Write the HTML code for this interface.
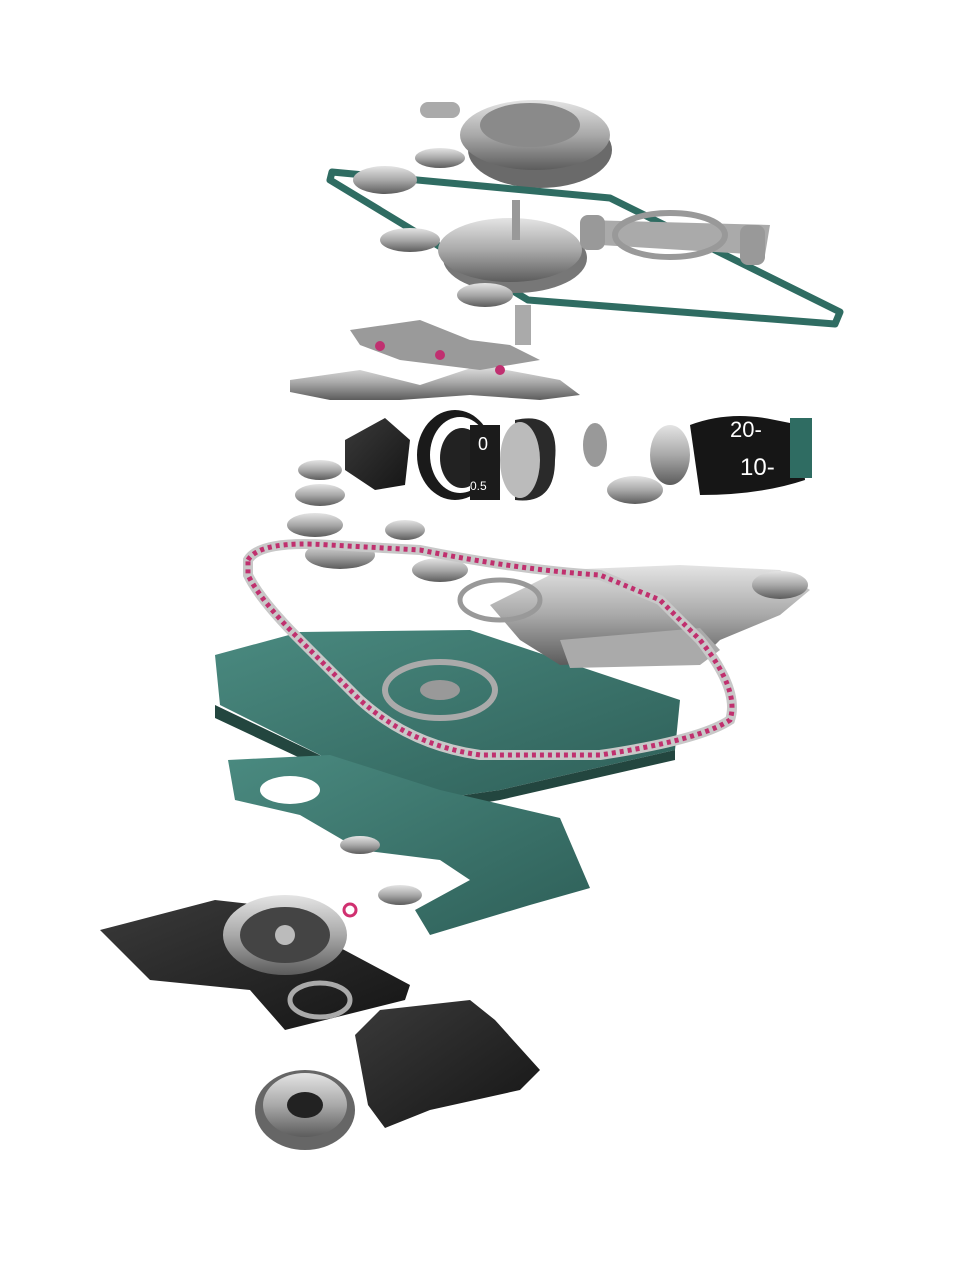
<!DOCTYPE html>
<html><head><meta charset="utf-8"><style>html,body{margin:0;padding:0;background:#fff}svg{display:block}</style></head>
<body>
<svg width="960" height="1280" viewBox="0 0 960 1280" xmlns="http://www.w3.org/2000/svg">
<defs>
<linearGradient id="steel" x1="0" y1="0" x2="0" y2="1"><stop offset="0" stop-color="#e4e4e4"/><stop offset="0.5" stop-color="#a9a9a9"/><stop offset="1" stop-color="#5c5c5c"/></linearGradient>
<linearGradient id="teal" x1="0" y1="0" x2="1" y2="1"><stop offset="0" stop-color="#4a8a80"/><stop offset="1" stop-color="#2e5f58"/></linearGradient>
<linearGradient id="blk" x1="0" y1="0" x2="1" y2="1"><stop offset="0" stop-color="#3a3a3a"/><stop offset="1" stop-color="#151515"/></linearGradient>
</defs>
<!-- top big disc -->
<ellipse cx="540" cy="150" rx="72" ry="38" fill="#6a6a6a"/>
<ellipse cx="535" cy="135" rx="75" ry="35" fill="url(#steel)"/>
<ellipse cx="530" cy="125" rx="50" ry="22" fill="#8a8a8a"/>
<rect x="420" y="102" width="40" height="16" rx="8" fill="#aaa"/>
<!-- frame -->
<polygon points="332,172 610,198 840,312 835,324 528,300 330,180" fill="none" stroke="#2f6c62" stroke-width="7" stroke-linejoin="round"/>
<!-- small gears top -->
<ellipse cx="385" cy="180" rx="32" ry="14" fill="url(#steel)"/>
<ellipse cx="440" cy="158" rx="25" ry="10" fill="url(#steel)"/>
<ellipse cx="410" cy="240" rx="30" ry="12" fill="url(#steel)"/>
<ellipse cx="515" cy="258" rx="72" ry="35" fill="#777"/>
<ellipse cx="510" cy="250" rx="72" ry="32" fill="url(#steel)"/>
<rect x="512" y="200" width="8" height="40" fill="#999"/>
<ellipse cx="485" cy="295" rx="28" ry="12" fill="url(#steel)"/>
<rect x="515" y="305" width="16" height="40" fill="#aaa"/>
<!-- right arm -->
<path d="M585 220 L770 225 L765 255 L600 245 Z" fill="#aaa"/>
<ellipse cx="670" cy="235" rx="55" ry="22" fill="none" stroke="#999" stroke-width="6"/>
<rect x="580" y="215" width="25" height="35" rx="8" fill="#999"/>
<rect x="740" y="225" width="25" height="40" rx="8" fill="#999"/>
<!-- gear row 2 -->
<path d="M290 380 L360 370 L420 385 L480 365 L560 380 L580 395 L540 400 L470 395 L400 400 L330 400 L290 392 Z" fill="url(#steel)"/>
<path d="M350 330 L420 320 L470 340 L510 345 L540 360 L480 370 L400 360 L360 345 Z" fill="#9a9a9a"/>
<circle cx="380" cy="346" r="5" fill="#c03070"/><circle cx="440" cy="355" r="5" fill="#c03070"/><circle cx="500" cy="370" r="5" fill="#c03070"/>
<!-- cylinders -->
<path d="M345 440 L385 418 L410 440 L405 485 L375 490 L345 470 Z" fill="url(#blk)"/>
<ellipse cx="455" cy="455" rx="38" ry="45" fill="#1a1a1a"/>
<ellipse cx="460" cy="455" rx="30" ry="38" fill="#fff"/>
<ellipse cx="462" cy="458" rx="22" ry="30" fill="#222"/>
<rect x="470" y="425" width="30" height="75" fill="#1b1b1b"/>
<text x="478" y="450" fill="#fff" font-family="Liberation Sans, sans-serif" font-size="18">0</text>
<text x="470" y="490" fill="#fff" font-family="Liberation Sans, sans-serif" font-size="12">0.5</text>
<path d="M515 420 Q560 410 555 460 Q555 505 515 500 Z" fill="#2a2a2a"/>
<ellipse cx="520" cy="460" rx="20" ry="38" fill="#bbb"/>
<ellipse cx="595" cy="445" rx="12" ry="22" fill="#999"/>
<ellipse cx="635" cy="490" rx="28" ry="14" fill="url(#steel)"/>
<ellipse cx="670" cy="455" rx="20" ry="30" fill="url(#steel)"/>
<path d="M690 425 Q730 410 775 420 L800 425 L805 480 Q760 495 700 495 Z" fill="#161616"/>
<text x="730" y="437" fill="#fff" font-family="Liberation Sans, sans-serif" font-size="22">20-</text>
<text x="740" y="475" fill="#fff" font-family="Liberation Sans, sans-serif" font-size="24">10-</text>
<rect x="790" y="418" width="22" height="60" fill="#2f6c62"/>
<!-- left gear stack -->
<ellipse cx="320" cy="470" rx="22" ry="10" fill="url(#steel)"/>
<ellipse cx="320" cy="495" rx="25" ry="11" fill="url(#steel)"/>
<ellipse cx="315" cy="525" rx="28" ry="12" fill="url(#steel)"/>
<ellipse cx="340" cy="555" rx="35" ry="14" fill="url(#steel)"/>
<ellipse cx="405" cy="530" rx="20" ry="10" fill="url(#steel)"/>
<ellipse cx="440" cy="570" rx="28" ry="12" fill="url(#steel)"/>
<!-- teal main plate -->
<polygon points="215,655 300,632 470,630 680,700 675,750 500,790 430,800 330,760 220,705" fill="url(#teal)"/>
<polygon points="215,705 330,760 430,800 500,790 675,750 675,760 500,800 430,812 330,772 215,718" fill="#23463f"/>
<ellipse cx="440" cy="690" rx="55" ry="28" fill="none" stroke="#aaa" stroke-width="6"/>
<ellipse cx="440" cy="690" rx="20" ry="10" fill="#999"/>
<!-- second teal plate -->
<polygon points="228,760 330,755 440,790 560,818 590,888 530,905 430,935 415,910 470,880 440,860 360,850 300,815 235,800" fill="url(#teal)"/>
<ellipse cx="290" cy="790" rx="30" ry="14" fill="#fff"/>
<!-- silver machinery right -->
<path d="M490 605 L560 570 L680 565 L780 570 L810 590 L780 615 L720 640 L700 660 L560 665 L520 640 Z" fill="url(#steel)"/>
<path d="M560 640 L700 628 L720 650 L700 665 L570 668 Z" fill="#aaa"/>
<ellipse cx="500" cy="600" rx="40" ry="20" fill="none" stroke="#999" stroke-width="5"/>
<ellipse cx="780" cy="585" rx="28" ry="14" fill="url(#steel)"/>
<!-- chain -->
<path d="M248 560 Q260 540 330 545 L420 550 Q520 570 600 575 L660 600 L700 640 Q740 690 730 720 Q700 740 600 755 L480 755 Q410 745 360 700 L300 640 Q260 600 248 575 Z" fill="none" stroke="#c8c8c8" stroke-width="10"/>
<path d="M248 560 Q260 540 330 545 L420 550 Q520 570 600 575 L660 600 L700 640 Q740 690 730 720 Q700 740 600 755 L480 755 Q410 745 360 700 L300 640 Q260 600 248 575 Z" fill="none" stroke="#c0306e" stroke-width="5" stroke-dasharray="4 4"/>
<!-- small gears between -->
<ellipse cx="360" cy="845" rx="20" ry="9" fill="url(#steel)"/>
<ellipse cx="400" cy="895" rx="22" ry="10" fill="url(#steel)"/>
<circle cx="350" cy="910" r="6" fill="none" stroke="#d03070" stroke-width="3"/>
<!-- black plates -->
<polygon points="100,930 215,900 260,905 410,985 405,1000 285,1030 250,990 150,980" fill="url(#blk)"/>
<ellipse cx="285" cy="935" rx="62" ry="40" fill="url(#steel)"/>
<ellipse cx="285" cy="935" rx="45" ry="28" fill="#444"/>
<circle cx="285" cy="935" r="10" fill="#bbb"/>
<ellipse cx="320" cy="1000" rx="30" ry="17" fill="none" stroke="#aaa" stroke-width="5"/>
<polygon points="355,1035 380,1010 470,1000 495,1020 540,1070 520,1090 430,1110 385,1128 368,1105" fill="url(#blk)"/>
<ellipse cx="305" cy="1110" rx="50" ry="40" fill="#666"/>
<ellipse cx="305" cy="1105" rx="42" ry="32" fill="url(#steel)"/>
<ellipse cx="305" cy="1105" rx="18" ry="13" fill="#222"/>
</svg>
</body></html>
